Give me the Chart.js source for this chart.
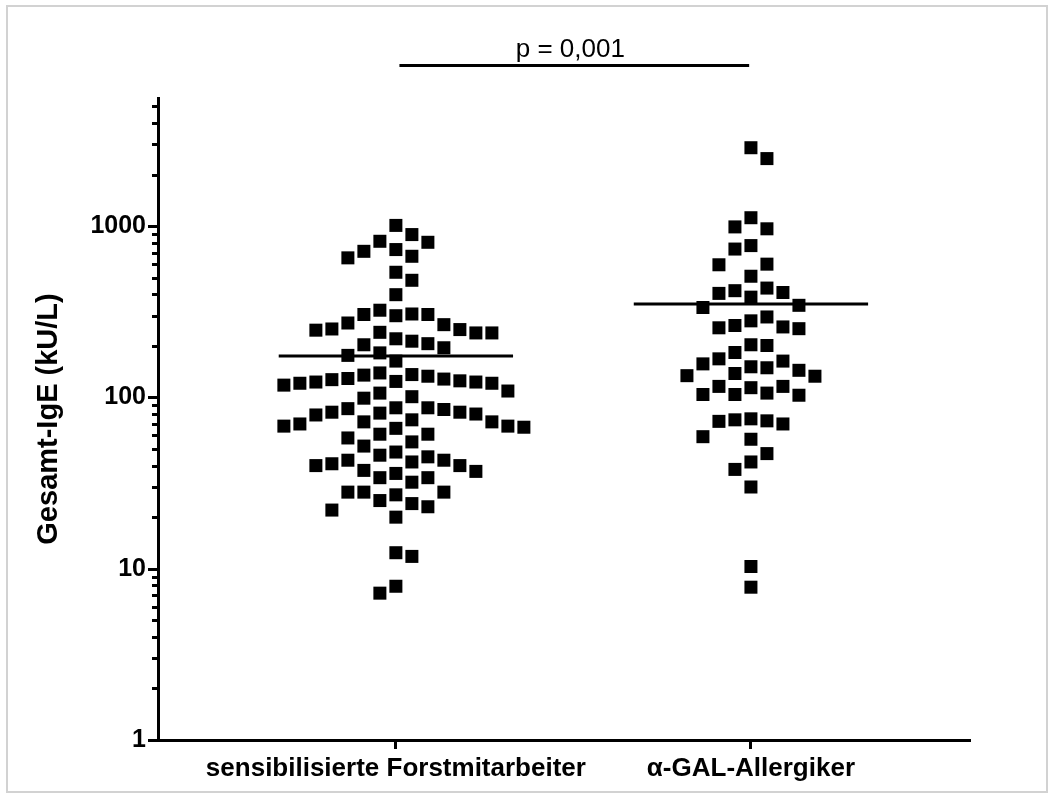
<!DOCTYPE html>
<html>
<head>
<meta charset="utf-8">
<script src="https://cdn.jsdelivr.net/npm/chart.js@4.4.1/dist/chart.umd.min.js"></script>
<style>
  html, body { margin: 0; padding: 0; background: #fff; }
  #wrap { position: relative; width: 1056px; height: 802px; }
  #frame {
    position: absolute; left: 6px; top: 5px; width: 1042px; height: 788px;
    box-sizing: border-box; border: 2px solid #d2d2d2; pointer-events: none;
  }
</style>
</head>
<body>
<div id="wrap">
  <canvas id="chart" width="1056" height="802"></canvas>
  <div id="frame"></div>
</div>
<script>
// Gesamt-IgE (kU/L) per subject
const groups = ['sensibilisierte Forstmitarbeiter', '\u03B1-GAL-Allergiker'];

const forstValues = [
  1010, 816, 893, 730, 667, 713, 805, 653, 538, 483, 398, 323, 305, 307, 305, 300,
  272, 251, 247, 238, 238, 240, 249, 266, 213, 203, 206, 220, 195, 182, 176, 163,
  136, 133, 128, 125, 123, 121, 118, 121, 123, 124, 127, 129, 135, 139, 106, 109, 101, 99,
  87, 85, 82, 80, 79, 81, 82, 86, 87,
  72, 70, 68, 66, 58, 74, 72, 68, 67, 61, 61, 55, 52,
  46, 45, 48, 43, 42, 40, 37.5, 36, 34, 34, 37, 40, 41, 43, 32,
  28, 28, 25, 27, 28, 23, 20, 22, 24,
  12.4, 11.8, 7.9, 7.2
];

const alphaGalValues = [
  2870, 2480, 1120, 990, 965, 735, 770, 600, 595, 510, 435, 405, 420, 410, 385, 335, 345,
  295, 263, 255, 252, 258, 280, 203, 183, 201,
  168, 157, 149, 138, 134, 144, 151, 163, 133,
  116, 114, 104, 103, 104, 106, 116,
  70, 74, 73, 75, 72.5, 57, 59, 47, 42, 38, 30, 10.3, 7.8
];

const yMajorTicks = [1, 10, 100, 1000];
const pValueLabel = 'p = 0,001';

const FONT = '"Liberation Sans", Arial, sans-serif';
const MEAN_HALF_WIDTH = 0.33;
const SWARM_DX = 16;   // horizontal spacing between neighbouring squares (px)
const SWARM_DY = 20;   // vertical distance below which squares share a row (px)

const mean = (arr) => arr.reduce((s, v) => s + v, 0) / arr.length;

// y tick marks: long ones at the decades, short ones in between
const logTicks = {
  id: 'logTicks',
  afterDraw(chart) {
    const { ctx, scales: { y } } = chart;
    ctx.save();
    ctx.strokeStyle = '#000';
    ctx.lineWidth = 3;
    y.ticks.forEach((t) => {
      const v = t.value;
      const m = v / Math.pow(10, Math.floor(Math.log10(v) + 1e-9));
      if (Math.abs(m - Math.round(m)) > 1e-6) return;
      const len = Math.round(m) === 1 ? 10 : 6;
      const py = Math.round(y.getPixelForValue(v)) + 0.5;
      ctx.beginPath();
      ctx.moveTo(y.right - len, py);
      ctx.lineTo(y.right, py);
      ctx.stroke();
    });
    ctx.restore();
  }
};

// comparison bar with p value between the two groups
const sigBar = {
  id: 'sigBar',
  afterDraw(chart) {
    const { ctx, scales: { x } } = chart;
    const x1 = x.getPixelForValue(1.01);
    const x2 = x.getPixelForValue(1.995);
    ctx.save();
    ctx.strokeStyle = '#000';
    ctx.lineWidth = 3;
    ctx.beginPath();
    ctx.moveTo(x1, 65.5);
    ctx.lineTo(x2, 65.5);
    ctx.stroke();
    ctx.fillStyle = '#000';
    ctx.font = '26px ' + FONT;
    ctx.textAlign = 'center';
    ctx.textBaseline = 'alphabetic';
    ctx.fillText(pValueLabel, (x1 + x2) / 2 - 4, 57);
    ctx.restore();
  }
};

const pointSet = (values, cat) => ({
  data: values.map((v) => ({ x: cat, y: v })),
  pointStyle: 'rect',
  pointRadius: 9.2,
  pointHoverRadius: 9.2,
  backgroundColor: '#000',
  borderWidth: 0,
  order: 1
});

const meanSet = (values, cat) => ({
  data: [
    { x: cat - MEAN_HALF_WIDTH, y: mean(values) },
    { x: cat + MEAN_HALF_WIDTH, y: mean(values) }
  ],
  showLine: true,
  borderColor: '#000',
  borderWidth: 3,
  pointRadius: 0,
  order: 0
});

const chart = new Chart(document.getElementById('chart'), {
  type: 'scatter',
  data: {
    datasets: [
      pointSet(forstValues, 1),
      pointSet(alphaGalValues, 2),
      meanSet(forstValues, 1),
      meanSet(alphaGalValues, 2)
    ]
  },
  options: {
    responsive: false,
    animation: false,
    events: [],
    layout: { padding: { top: 98, right: 86, bottom: 0, left: 0 } },
    plugins: { legend: { display: false }, tooltip: { enabled: false } },
    scales: {
      x: {
        type: 'linear',
        min: 0.33,
        max: 2.617,
        afterBuildTicks: (scale) => { scale.ticks = [{ value: 1 }, { value: 2 }]; },
        afterFit: (scale) => { scale.height = 62; },
        grid: {
          display: true,
          drawOnChartArea: false,
          drawTicks: true,
          tickLength: 9,
          tickWidth: 3,
          tickColor: '#000'
        },
        border: { display: true, color: '#000', width: 3 },
        ticks: {
          autoSkip: false,
          maxRotation: 0,
          padding: 4,
          color: '#000',
          font: { family: FONT, size: 26, weight: 'bold' },
          callback: (v) => groups[v - 1]
        }
      },
      y: {
        type: 'logarithmic',
        min: 1,
        max: 5600,
        afterFit: (scale) => { scale.width = 158; },
        grid: { display: false, drawTicks: false },
        border: { display: true, color: '#000', width: 3 },
        ticks: {
          autoSkip: false,
          padding: 12,
          color: '#000',
          font: { family: FONT, size: 25, weight: 'bold' },
          callback: (v) => (yMajorTicks.includes(v) ? String(v) : '')
        },
        title: {
          display: true,
          text: 'Gesamt-IgE (kU/L)',
          color: '#000',
          padding: { top: 32, bottom: 0 },
          font: { family: FONT, size: 29, weight: 'bold' }
        }
      }
    }
  },
  plugins: [logTicks, sigBar]
});

// spread each group's squares sideways so that none overlap (beeswarm)
function swarmOffsets(values, yScale) {
  const order = values.map((v, i) => i).sort((a, b) => values[b] - values[a]);
  const placed = [];
  const offsets = new Array(values.length).fill(0);
  let flip = false;
  order.forEach((i) => {
    const py = yScale.getPixelForValue(values[i]);
    const near = placed.filter((p) => Math.abs(p.y - py) < SWARM_DY);
    const candidates = [0];
    near.forEach((p) => candidates.push(p.x - SWARM_DX, p.x + SWARM_DX));
    const ok = candidates.filter((c) => near.every((p) => Math.abs(p.x - c) >= SWARM_DX - 0.01));
    ok.sort((a, b) => Math.abs(a) - Math.abs(b) || (flip ? a - b : b - a));
    const px = ok[0];
    if (px !== 0) flip = !flip;
    offsets[i] = px;
    placed.push({ x: px, y: py });
  });
  return offsets;
}

[forstValues, alphaGalValues].forEach((values, k) => {
  const cat = k + 1;
  const { x, y } = chart.scales;
  const offsets = swarmOffsets(values, y);
  const center = x.getPixelForValue(cat);
  chart.data.datasets[k].data = values.map((v, i) => ({
    x: x.getValueForPixel(center + offsets[i]),
    y: v
  }));
});
chart.update('none');
</script>
</body>
</html>
